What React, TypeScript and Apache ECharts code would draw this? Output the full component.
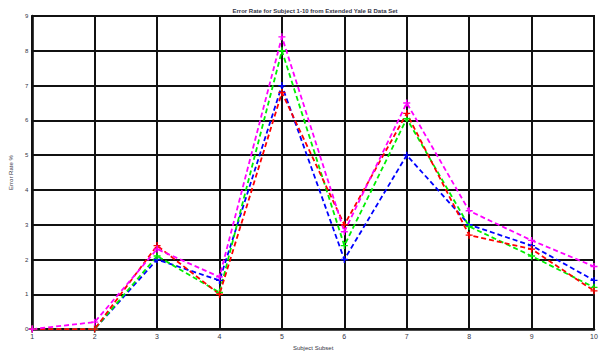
import React, { useEffect, useRef } from "react";
import * as echarts from "echarts";

const subjects = [1, 2, 3, 4, 5, 6, 7, 8, 9, 10];
const blueSeries = [0, 0, 2.0, 1.4, 7.0, 2.0, 5.0, 3.0, 2.4, 1.4];
const greenSeries = [0, 0, 2.1, 1.05, 8.0, 2.4, 6.05, 2.95, 2.1, 1.2];
const redSeries = [0, 0, 2.4, 1.0, 6.8, 3.0, 6.2, 2.7, 2.3, 1.1];
const magentaSeries = [0, 0.2, 2.3, 1.5, 8.4, 2.8, 6.5, 3.4, 2.55, 1.8];

const titleText = "Error Rate for Subject 1-10 from Extended Yale B Data Set";
const xName = "Subject Subset";
const yName = "Error Rate %";

const plus = "path://M4,0H6V4H10V6H6V10H4V6H0V4H4Z";

export default function App() {
  const ref = useRef<HTMLDivElement>(null);
  useEffect(() => {
    const chart = echarts.init(ref.current!, null, { renderer: "svg" });
    const mk = (name: string, color: string, vals: number[]) => ({
      name,
      type: "line",
      data: subjects.map((s, i) => [s, vals[i]]),
      symbol: plus,
      symbolSize: 7,
      lineStyle: { color, width: 1.8, type: [5, 3] },
      itemStyle: { color },
      z: 5,
    });
    chart.setOption({
      animation: false,
      backgroundColor: "#fff",
      title: {
        text: titleText,
        left: 310,
        textAlign: "center",
        top: 3,
        textStyle: { fontSize: 6, fontWeight: "bold", color: "#334", fontFamily: "Liberation Sans" },
      },
      grid: {
        left: 28,
        right: 9,
        top: 16,
        bottom: 16,
        show: true,
        borderColor: "#111",
        borderWidth: 2,
      },
      xAxis: {
        type: "value",
        min: 1,
        max: 10,
        interval: 1,
        name: xName,
        nameLocation: "middle",
        nameGap: 11,
        nameTextStyle: { fontSize: 6, color: "#334", fontFamily: "Liberation Sans" },
        axisLine: { show: true, lineStyle: { color: "#111", width: 2.5 } },
        axisTick: { show: false },
        axisLabel: { fontSize: 7, color: "#334", margin: 4, fontFamily: "Liberation Sans" },
        splitLine: { show: true, lineStyle: { color: "#111", width: 2 } },
      },
      yAxis: {
        type: "value",
        min: 0,
        max: 9,
        interval: 1,
        name: yName,
        nameLocation: "middle",
        nameGap: 13,
        nameRotate: 90,
        nameTextStyle: { fontSize: 6, color: "#334", fontFamily: "Liberation Sans" },
        axisLine: { show: true, lineStyle: { color: "#111", width: 2.5 } },
        axisTick: { show: false },
        axisLabel: { fontSize: 6, color: "#334", margin: 4, fontFamily: "Liberation Sans" },
        splitLine: { show: true, lineStyle: { color: "#111", width: 2 } },
      },
      series: [
        mk("Blue", "#0000ff", blueSeries),
        mk("Green", "#00ee00", greenSeries),
        mk("Red", "#ff0000", redSeries),
        mk("Magenta", "#ff00ff", magentaSeries),
      ],
    });
    return () => chart.dispose();
  }, []);
  return <div ref={ref} style={{ width: 603, height: 356, position: "absolute", left: 0, top: 0 }} />;
}
